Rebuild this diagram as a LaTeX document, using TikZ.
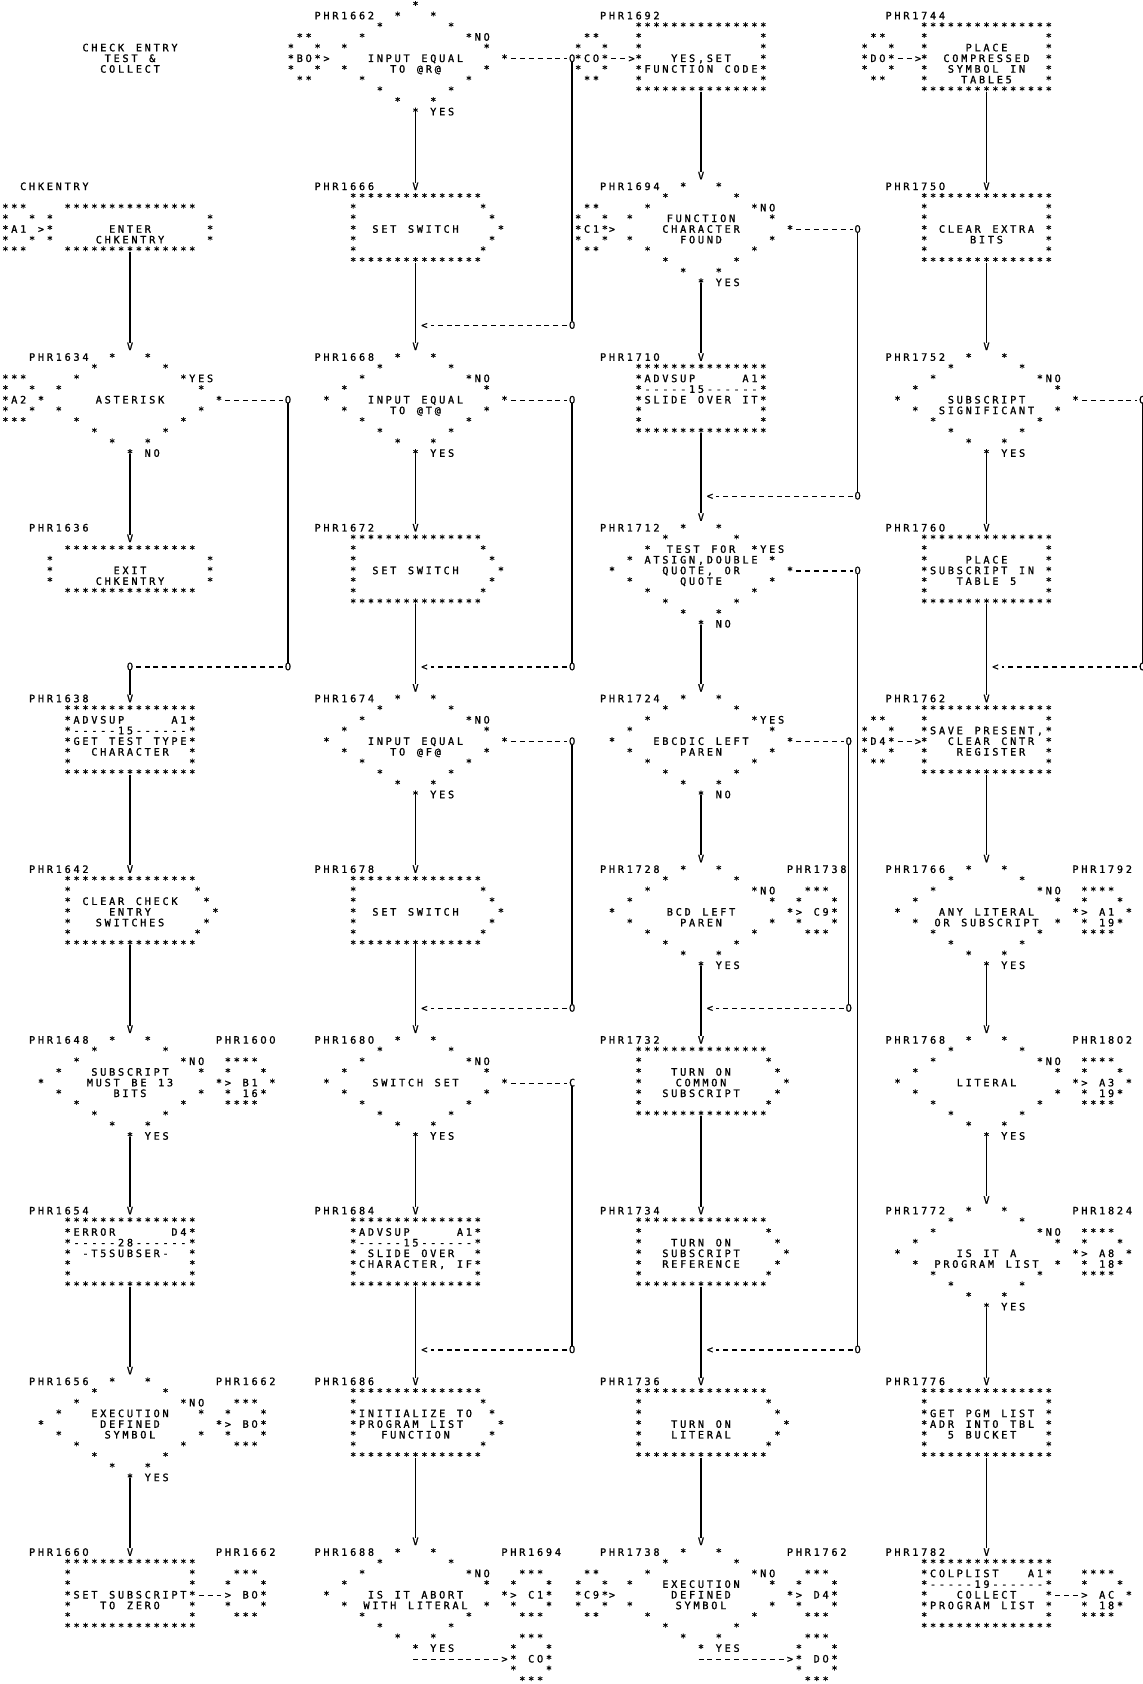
\documentclass[tikz,border=0pt]{standalone}
\usepackage{fontspec}
\newfontfamily\dvm[FakeBold=1.2]{DejaVu Sans Mono}
\newfontfamily\dvs[FakeBold=1.2]{DejaVu Sans}
\newlength\cw
\setlength\cw{4.45pt}
\makeatletter
\def\gstr@end{\gstr@end}
\def\gstr#1{\gstr@#1\gstr@end}
\def\gstr@#1{\ifx#1\gstr@end\else\gbox{#1}\expandafter\gstr@\fi}
\def\gbox#1{\makebox[\cw][c]{\ifx0#1{\dvs\fontsize{5.1}{6}\selectfont 0}\else#1\fi}}
\makeatother
\newcount\tcnt
\def\cA{130}\def\cB{415.5}\def\cC{701}\def\cD{986.5}
\def\yo{5.0}\def\lh{10.67}
\newcommand\Blk[2]{\def\cx{#1}\def\rw{#2}}
\newcommand\Tx[3]{\global\advance\tcnt by 1\relax
  \node[gt] (t\the\tcnt) at ({\cx+8.9*(#1)-4.45},{\yo+\lh*(16*\rw+(#2))+3.65}) {\gstr{#3}};}
\newcommand\Tc[2]{\global\advance\tcnt by 1\relax
  \node[gt,anchor=base] (t\the\tcnt) at ({\cx},{\yo+\lh*(16*\rw+(#1))+3.65}) {\gstr{#2}};}
\newcommand\Cd[4]{\coordinate (#1) at ({\cx+8.9*(#2)},{\yo+\lh*(16*\rw+(#3))+(#4)});}
% shapes
\newcommand\Dia[3]{\Tx{0}{0}{#1}%
  \foreach \i in {1,2,3,4}{\Tx{-2*\i}{\i}{*}\Tx{2*\i}{\i}{*}\Tx{-2*\i}{10-\i}{*}\Tx{2*\i}{10-\i}{*}}%
  \Tx{-10}{5}{#2}\Tx{10}{5}{#3}\Tx{0}{10}{*}}
\newcommand\RectTB{\Tx{-7}{2}{***************}\Tx{-7}{8}{***************}}
\newcommand\Blank[1]{\Tx{-7}{#1}{*}\Tx{7}{#1}{*}}
\newcommand\Rect{\RectTB\foreach \j in {3,...,7}{\Blank{\j}}}
\newcommand\Hex{\RectTB\foreach \j/\rr in {3/7.6,4/8.6,5/9.6,6/8.6,7/7.6}{\Tx{-7}{\j}{*}\Tx{\rr}{\j}{*}}}
\newcommand\Term{\Tx{-7}{3}{***************}\Tx{-7}{7}{***************}\foreach \j in {4,5,6}{\Tx{-9}{\j}{*}\Tx{9}{\j}{*}}}
% connectors (glyph shapes)
\newcommand\LEnt[1]{\Tx{-14}{3}{***}\Tx{-14}{4}{*}\Tx{-11}{4}{*}\Tx{-14}{5}{*#1~}\Tx{-14}{6}{*}\Tx{-11}{6}{*}\Tx{-14}{7}{***}}
\newcommand\LCirc[2]{\Tx{-13+#1}{3}{**}\Tx{-14+#1}{4}{*}\Tx{-11+#1}{4}{*}\Tx{-14+#1}{5}{*#2*}\Tx{-14+#1}{6}{*}\Tx{-11+#1}{6}{*}\Tx{-13+#1}{7}{**}}
\newcommand\LBox[3]{\LCirc{#1}{#2}\Tx{-8+#1}{5}{>}\Cd{#3-ls}{-10.28+#1}{5}{0.5}\Cd{#3-le}{-8.72+#1}{5}{0.5}\draw[hd] (#3-ls) -- (#3-le);}
\newcommand\RCirc[1]{\Tx{12}{3}{***}\Tx{11}{4}{*}\Tx{15}{4}{*}\Tx{11}{5}{>~#1*}\Tx{11}{6}{*}\Tx{15}{6}{*}\Tx{12}{7}{***}}
\newcommand\RCircB[1]{\Tx{12}{9}{***}\Tx{11}{10}{*}\Tx{15}{10}{*}\Tx{10}{11}{>*~#1*}\Tx{11}{12}{*}\Tx{15}{12}{*}\Tx{12}{13}{***}}
\newcommand\ROff[2]{\Tx{11}{3}{****}\Tx{11}{4}{*}\Tx{15}{4}{*}\Tx{11}{5}{>~#1~*}\Tx{11}{6}{*~#2*}\Tx{11}{7}{****}}
\newcommand\Junc[2]{\Tx{1}{-2}{<}\Tx{#2}{-2}{0}\Cd{#1-t}{#2}{-2}{-3.8}\Cd{#1-s}{#2-0.55}{-2}{0.5}\Cd{#1-e}{1.72}{-2}{0.5}\draw[hd] (#1-s) -- (#1-e);}
\newcommand\XR[3]{\Tx{#2}{5}{#3}\Cd{#1-s}{10.72}{5}{0.5}\Cd{#1-e}{#2-0.55}{5}{0.5}\Cd{#1-j}{#2}{5}{3.7}\draw[hd] (#1-s) -- (#1-e);}
\begin{document}
\begin{tikzpicture}[x=0.5pt,y=-0.5pt,
  gt/.style={anchor=base west,inner sep=0pt,outer sep=0pt,font=\dvm\fontsize{5.1}{6}\selectfont},
  vl/.style={line width=0.7pt},
  hd/.style={line width=0.6pt,dash pattern=on 2.5pt off 1.95pt}]
\fill[white] (0,0) rectangle (1143,1684);
\useasboundingbox (0,0) rectangle (1143,1684);
% ================= Column A
\Blk{\cA}{0}
\Tc{4}{CHECK~ENTRY}\Tc{5}{TEST~\&}\Tc{6}{COLLECT}
\Blk{\cA}{1}
\Tx{-12}{1}{CHKENTRY}\Term\Tc{5}{ENTER}\Tc{6}{CHKENTRY}\LEnt{A1}\Tx{-10}{5}{>}
\Cd{a1-out}{0}{7}{1.2}
\Blk{\cA}{2}
\Tx{-11}{1}{PHR1634}\Dia{V}{*}{*}\LEnt{A2}\Tc{5}{ASTERISK}\Tx{7}{3}{YES}\Tx{2}{10}{NO}
\Cd{a2-in}{0}{0}{-3.8}\Cd{a2-out}{0}{10}{0.8}
\XR{xa2}{17.75}{0}
\Blk{\cA}{3}
\Tx{-11}{1}{PHR1636}\Tx{0}{2}{V}\Term\Tc{5}{EXIT}\Tc{6}{CHKENTRY}
\Cd{a3-in}{0}{2}{-3.8}
\Blk{\cA}{4}
\Tx{0}{-2}{0}\Tx{17.75}{-2}{0}
\Cd{ja4-t}{17.75}{-2}{-3.8}\Cd{ja4-s}{17.2}{-2}{0.5}\Cd{ja4-e}{0.55}{-2}{0.5}\Cd{ja4-b}{0}{-2}{3.7}
\draw[hd] (ja4-s) -- (ja4-e);
\Tx{-11}{1}{PHR1638}\Tx{0}{1}{V}\RectTB
\Tx{-7}{3}{*ADVSUP~~~~~A1*}\Tx{-7}{4}{*-----15------*}\Tx{-7}{5}{*GET~TEST~TYPE*}\Tx{-7}{6}{*~~CHARACTER~~*}\Blank{7}
\Cd{a4-in}{0}{1}{-3.8}\Cd{a4-out}{0}{8}{1.5}
\Blk{\cA}{5}
\Tx{-11}{1}{PHR1642}\Tx{0}{1}{V}\Hex\Tc{4}{CLEAR~CHECK}\Tc{5}{ENTRY}\Tc{6}{SWITCHES}
\Cd{a5-in}{0}{1}{-3.8}\Cd{a5-out}{0}{8}{1.5}
\Blk{\cA}{6}
\Tx{-11}{1}{PHR1648}\Dia{V}{*}{*}\Tc{4}{SUBSCRIPT}\Tc{5}{MUST~BE~13}\Tc{6}{BITS}\Tx{7}{3}{NO}\Tx{2}{10}{YES}
\Tx{10}{1}{PHR1600}\ROff{B1}{16}
\Cd{a6-in}{0}{0}{-3.8}\Cd{a6-out}{0}{10}{0.8}
\Blk{\cA}{7}
\Tx{-11}{1}{PHR1654}\Tx{0}{1}{V}\RectTB
\Tx{-7}{3}{*ERROR~~~~~~D4*}\Tx{-7}{4}{*-----28------*}\Tx{-7}{5}{*~-T5SUBSER-~~*}\Blank{6}\Blank{7}
\Cd{a7-in}{0}{1}{-3.8}\Cd{a7-out}{0}{8}{1.5}
\Blk{\cA}{8}
\Tx{-11}{1}{PHR1656}\Dia{V}{*}{*}\Tc{4}{EXECUTION}\Tc{5}{DEFINED}\Tc{6}{SYMBOL}\Tx{7}{3}{NO}\Tx{2}{10}{YES}
\Tx{10}{1}{PHR1662}\RCirc{B0}
\Cd{a8-in}{0}{0}{-3.8}\Cd{a8-out}{0}{10}{0.8}
\Blk{\cA}{9}
\Tx{-11}{1}{PHR1660}\Tx{0}{1}{V}\RectTB
\Blank{3}\Blank{4}\Tx{-7}{5}{*SET~SUBSCRIPT*}\Tx{-7}{6}{*~~~TO~ZERO~~~*}\Blank{7}
\Tx{10}{1}{PHR1662}\RCirc{B0}
\Cd{ra9-s}{7.72}{5}{0.5}\Cd{ra9-e}{10.28}{5}{0.5}\draw[hd] (ra9-s) -- (ra9-e);
\Cd{a9-in}{0}{1}{-3.8}
% ================= Column B
\Blk{\cB}{0}
\Tx{-11}{1}{PHR1662}\Dia{*}{>}{*}\LCirc{0}{B0}\Tc{5}{INPUT~EQUAL}\Tc{6}{TO~@R@}\Tx{7}{3}{NO}\Tx{2}{10}{YES}
\XR{xb0}{17.6}{0}
\Cd{b0-out}{0}{10}{0.8}
\Blk{\cB}{1}
\Tx{-11}{1}{PHR1666}\Tx{0}{1}{V}\Hex\Tc{5}{SET~SWITCH}
\Cd{b1-in}{0}{1}{-3.8}\Cd{b1-out}{0}{8}{1.5}
\Blk{\cB}{2}
\Junc{jb2}{17.6}
\Tx{-11}{1}{PHR1668}\Dia{V}{*}{*}\Tc{5}{INPUT~EQUAL}\Tc{6}{TO~@T@}\Tx{7}{3}{NO}\Tx{2}{10}{YES}
\XR{xb2}{17.6}{0}
\Cd{b2-in}{0}{0}{-3.8}\Cd{b2-out}{0}{10}{0.8}
\Blk{\cB}{3}
\Tx{-11}{1}{PHR1672}\Tx{0}{1}{V}\Hex\Tc{5}{SET~SWITCH}
\Cd{b3-in}{0}{1}{-3.8}\Cd{b3-out}{0}{8}{1.5}
\Blk{\cB}{4}
\Junc{jb4}{17.6}
\Tx{-11}{1}{PHR1674}\Dia{V}{*}{*}\Tc{5}{INPUT~EQUAL}\Tc{6}{TO~@F@}\Tx{7}{3}{NO}\Tx{2}{10}{YES}
\XR{xb4}{17.6}{0}
\Cd{b4-in}{0}{0}{-3.8}\Cd{b4-out}{0}{10}{0.8}
\Blk{\cB}{5}
\Tx{-11}{1}{PHR1678}\Tx{0}{1}{V}\Hex\Tc{5}{SET~SWITCH}
\Cd{b5-in}{0}{1}{-3.8}\Cd{b5-out}{0}{8}{1.5}
\Blk{\cB}{6}
\Junc{jb6}{17.6}
\Tx{-11}{1}{PHR1680}\Dia{V}{*}{*}\Tc{5}{SWITCH~SET}\Tx{7}{3}{NO}\Tx{2}{10}{YES}
\XR{xb6}{17.6}{C}
\Cd{b6-in}{0}{0}{-3.8}\Cd{b6-out}{0}{10}{0.8}
\Blk{\cB}{7}
\Tx{-11}{1}{PHR1684}\Tx{0}{1}{V}\RectTB
\Tx{-7}{3}{*ADVSUP~~~~~A1*}\Tx{-7}{4}{*-----15------*}\Tx{-7}{5}{*~SLIDE~OVER~~*}\Tx{-7}{6}{*CHARACTER,~IF*}\Blank{7}
\Cd{b7-in}{0}{1}{-3.8}\Cd{b7-out}{0}{8}{1.5}
\Blk{\cB}{8}
\Junc{jb8}{17.6}
\Tx{-11}{1}{PHR1686}\Tx{0}{1}{V}\Hex\Tx{-6}{4}{INITIALIZE~TO}\Tx{-6}{5}{PROGRAM~LIST}\Tc{6}{FUNCTION}
\Cd{b8-in}{0}{1}{-3.8}\Cd{b8-out}{0}{8}{1.5}
\Blk{\cB}{9}
\Tx{-11}{1}{PHR1688}\Dia{V}{*}{*}\Tc{5}{IS~IT~ABORT}\Tc{6}{WITH~LITERAL}\Tx{7}{3}{NO}\Tx{2}{10}{YES}
\Tx{10}{1}{PHR1694}\RCirc{C1}\RCircB{C0}
\Cd{yb9-s}{-0.28}{11}{0.5}\Cd{yb9-e}{9.28}{11}{0.5}\draw[hd] (yb9-s) -- (yb9-e);
\Cd{b9-in}{0}{0}{-3.8}
% ================= Column C
\Blk{\cC}{0}
\LBox{0.2}{C0}{lc0}
\Tx{-11}{1}{PHR1692}\RectTB\Blank{3}\Blank{4}\Blank{5}\Tc{5}{YES,SET}\Tx{-7}{6}{*FUNCTION~CODE*}\Blank{7}
\Cd{c0-out}{0}{8}{1.5}
\Blk{\cC}{1}
\Tx{-11}{1}{PHR1694}\Dia{V}{>}{*}\LCirc{0.2}{C1}\Tc{4}{FUNCTION}\Tc{5}{CHARACTER}\Tc{6}{FOUND}\Tx{7}{3}{NO}\Tx{2}{10}{YES}
\XR{xc1}{17.6}{0}
\Cd{c1-in}{0}{0}{-3.8}\Cd{c1-out}{0}{10}{0.8}
\Blk{\cC}{2}
\Tx{-11}{1}{PHR1710}\Tx{0}{1}{V}\RectTB
\Tx{-7}{3}{*ADVSUP~~~~~A1*}\Tx{-7}{4}{*-----15------*}\Tx{-7}{5}{*SLIDE~OVER~IT*}\Blank{6}\Blank{7}
\Cd{c2-in}{0}{1}{-3.8}\Cd{c2-out}{0}{8}{1.5}
\Blk{\cC}{3}
\Junc{jc3}{17.6}
\Tx{-11}{1}{PHR1712}\Dia{V}{*}{*}\Tc{3}{TEST~FOR}\Tc{4}{ATSIGN,DOUBLE}\Tc{5}{QUOTE,~OR}\Tc{6}{QUOTE}\Tx{7}{3}{YES}\Tx{2}{10}{NO}
\XR{xc3}{17.6}{0}
\Cd{c3-in}{0}{0}{-3.8}\Cd{c3-out}{0}{10}{0.8}
\Blk{\cC}{4}
\Tx{-11}{1}{PHR1724}\Dia{V}{*}{*}\Tc{5}{EBCDIC~LEFT}\Tc{6}{PAREN}\Tx{7}{3}{YES}\Tx{2}{10}{NO}
\XR{xc4}{16.6}{0}
\Cd{c4-in}{0}{0}{-3.8}\Cd{c4-out}{0}{10}{0.8}
\Blk{\cC}{5}
\Tx{-11}{1}{PHR1728}\Dia{V}{*}{*}\Tc{5}{BCD~LEFT}\Tc{6}{PAREN}\Tx{7}{3}{NO}\Tx{2}{10}{YES}
\Tx{10}{1}{PHR1738}\RCirc{C9}
\Cd{c5-in}{0}{0}{-3.8}\Cd{c5-out}{0}{10}{0.8}
\Blk{\cC}{6}
\Junc{jc6}{16.6}
\Tx{-11}{1}{PHR1732}\Tx{0}{1}{V}\Hex\Tc{4}{TURN~ON}\Tc{5}{COMMON}\Tc{6}{SUBSCRIPT}
\Cd{c6-in}{0}{1}{-3.8}\Cd{c6-out}{0}{8}{1.5}
\Blk{\cC}{7}
\Tx{-11}{1}{PHR1734}\Tx{0}{1}{V}\Hex\Tc{4}{TURN~ON}\Tc{5}{SUBSCRIPT}\Tc{6}{REFERENCE}
\Cd{c7-in}{0}{1}{-3.8}\Cd{c7-out}{0}{8}{1.5}
\Blk{\cC}{8}
\Junc{jc8}{17.6}
\Tx{-11}{1}{PHR1736}\Tx{0}{1}{V}\Hex\Tc{5}{TURN~ON}\Tc{6}{LITERAL}
\Cd{c8-in}{0}{1}{-3.8}\Cd{c8-out}{0}{8}{1.5}
\Blk{\cC}{9}
\Tx{-11}{1}{PHR1738}\Dia{V}{>}{*}\LCirc{0.2}{C9}\Tc{4}{EXECUTION}\Tc{5}{DEFINED}\Tc{6}{SYMBOL}\Tx{7}{3}{NO}\Tx{2}{10}{YES}
\Tx{10}{1}{PHR1762}\RCirc{D4}\RCircB{D0}
\Cd{yc9-s}{-0.28}{11}{0.5}\Cd{yc9-e}{9.28}{11}{0.5}\draw[hd] (yc9-s) -- (yc9-e);
\Cd{c9-in}{0}{0}{-3.8}
% ================= Column D
\Blk{\cD}{0}
\LBox{0.3}{D0}{ld0}
\Tx{-11}{1}{PHR1744}\Rect\Tc{4}{PLACE}\Tc{5}{COMPRESSED}\Tc{6}{SYMBOL~IN}\Tc{7}{TABLE5}
\Cd{d0-out}{0}{8}{1.5}
\Blk{\cD}{1}
\Tx{-11}{1}{PHR1750}\Tx{0}{1}{V}\Rect\Tc{5}{CLEAR~EXTRA}\Tc{6}{BITS}
\Cd{d1-in}{0}{1}{-3.8}\Cd{d1-out}{0}{8}{1.5}
\Blk{\cD}{2}
\Tx{-11}{1}{PHR1752}\Dia{V}{*}{*}\Tc{5}{SUBSCRIPT}\Tc{6}{SIGNIFICANT}\Tx{7}{3}{NO}\Tx{2}{10}{YES}
\XR{xd2}{17.5}{0}
\Cd{d2-in}{0}{0}{-3.8}\Cd{d2-out}{0}{10}{0.8}
\Blk{\cD}{3}
\Tx{-11}{1}{PHR1760}\Tx{0}{1}{V}\RectTB\Blank{3}\Tx{-7}{4}{*~~~~PLACE~~~~*}\Tx{-7}{5}{*SUBSCRIPT~IN~*}\Tx{-7}{6}{*~~~TABLE~5~~~*}\Blank{7}
\Cd{d3-in}{0}{1}{-3.8}\Cd{d3-out}{0}{8}{1.5}
\Blk{\cD}{4}
\Junc{jd4}{17.5}
\LBox{0.3}{D4}{ld4}
\Tx{-11}{1}{PHR1762}\Tx{0}{1}{V}\RectTB\Blank{3}\Tx{-7}{4}{*SAVE~PRESENT,*}\Tx{-7}{5}{*~~CLEAR~CNTR~*}\Tx{-7}{6}{*~~~REGISTER~~*}\Blank{7}
\Cd{d4-in}{0}{1}{-3.8}\Cd{d4-out}{0}{8}{1.5}
\Blk{\cD}{5}
\Tx{-11}{1}{PHR1766}\Dia{V}{*}{*}\Tc{5}{ANY~LITERAL}\Tc{6}{OR~SUBSCRIPT}\Tx{7}{3}{NO}\Tx{2}{10}{YES}
\Tx{10}{1}{PHR1792}\ROff{A1}{19}
\Cd{d5-in}{0}{0}{-3.8}\Cd{d5-out}{0}{10}{0.8}
\Blk{\cD}{6}
\Tx{-11}{1}{PHR1768}\Dia{V}{*}{*}\Tc{5}{LITERAL}\Tx{7}{3}{NO}\Tx{2}{10}{YES}
\Tx{10}{1}{PHR1802}\ROff{A3}{19}
\Cd{d6-in}{0}{0}{-3.8}\Cd{d6-out}{0}{10}{0.8}
\Blk{\cD}{7}
\Tx{-11}{1}{PHR1772}\Dia{V}{*}{*}\Tc{5}{IS~IT~A}\Tc{6}{PROGRAM~LIST}\Tx{7}{3}{NO}\Tx{2}{10}{YES}
\Tx{10}{1}{PHR1824}\ROff{A8}{18}
\Cd{d7-in}{0}{0}{-3.8}\Cd{d7-out}{0}{10}{0.8}
\Blk{\cD}{8}
\Tx{-11}{1}{PHR1776}\Tx{0}{1}{V}\RectTB\Blank{3}\Tx{-7}{4}{*GET~PGM~LIST~*}\Tx{-7}{5}{*ADR~INTO~TBL~*}\Tx{-7}{6}{*~~5~BUCKET~~~*}\Blank{7}
\Cd{d8-in}{0}{1}{-3.8}\Cd{d8-out}{0}{8}{1.5}
\Blk{\cD}{9}
\Tx{-11}{1}{PHR1782}\Tx{0}{1}{V}\RectTB
\Tx{-7}{3}{*COLPLIST~~~A1*}\Tx{-7}{4}{*-----19------*}\Tx{-7}{5}{*~~~COLLECT~~~*}\Tx{-7}{6}{*PROGRAM~LIST~*}\Blank{7}
\ROff{AC}{18}
\Cd{rd9-s}{7.72}{5}{0.5}\Cd{rd9-e}{10.28}{5}{0.5}\draw[hd] (rd9-s) -- (rd9-e);
\Cd{d9-in}{0}{1}{-3.8}
% ================= vertical connectors
\draw[vl] (a1-out) -- (a2-in);
\draw[vl] (a2-out) -- (a3-in);
\draw[vl] (xa2-j) -- (ja4-t);
\draw[vl] (ja4-b) -- (a4-in);
\foreach \p/\q in {a4/a5,a5/a6,a6/a7,a7/a8,a8/a9,
  b0/b1,b1/b2,b2/b3,b3/b4,b4/b5,b5/b6,b6/b7,b7/b8,b8/b9,
  c0/c1,c1/c2,c2/c3,c3/c4,c4/c5,c5/c6,c6/c7,c7/c8,c8/c9,
  d0/d1,d1/d2,d2/d3,d3/d4,d4/d5,d5/d6,d6/d7,d7/d8,d8/d9}
  {\draw[vl] (\p-out) -- (\q-in);}
\foreach \p/\q in {xb0/jb2,xb2/jb4,xb4/jb6,xb6/jb8,xc1/jc3,xc3/jc8,xc4/jc6,xd2/jd4}
  {\draw[vl] (\p-j) -- (\q-t);}
\end{tikzpicture}
\end{document}
